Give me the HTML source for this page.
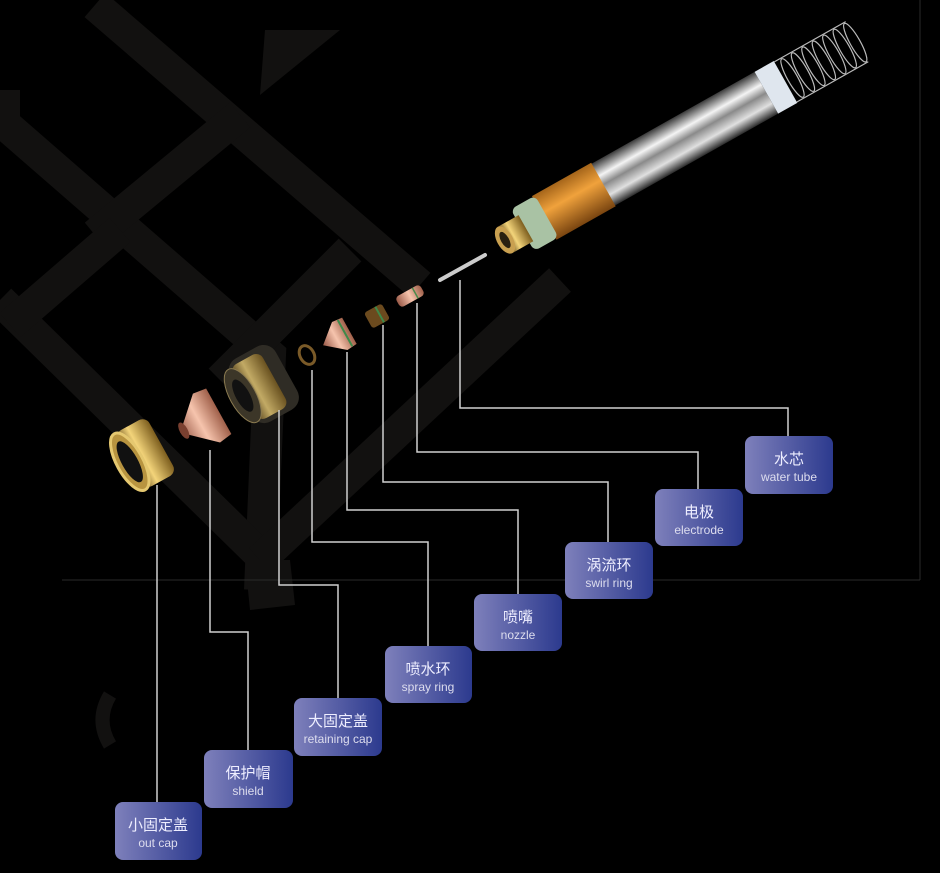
<!DOCTYPE html>
<html><head><meta charset="utf-8"><style>
html,body{margin:0;padding:0;background:#000;}
svg{display:block;}
.cn{font-family:"Liberation Sans","Noto Sans CJK SC",sans-serif;font-size:15px;fill:#eef;}
.en{font-family:"Liberation Sans","Noto Sans CJK SC",sans-serif;font-size:12px;fill:#dde;}
</style></head><body>
<svg width="940" height="873" viewBox="0 0 940 873" xmlns="http://www.w3.org/2000/svg">
<defs>
<linearGradient id="bx" x1="0" x2="1" y1="0" y2="0"><stop offset="0" stop-color="#7e80bb"/><stop offset="1" stop-color="#2c3a8e"/></linearGradient>
<linearGradient id="steel" x1="0" x2="0" y1="0" y2="1"><stop offset="0" stop-color="#3a3a3a"/><stop offset="0.3" stop-color="#f4f4f4"/><stop offset="0.5" stop-color="#8a8a8a"/><stop offset="0.75" stop-color="#e0e0e0"/><stop offset="1" stop-color="#2a2a2a"/></linearGradient>
<linearGradient id="orange" x1="0" x2="0" y1="0" y2="1"><stop offset="0" stop-color="#a5651a"/><stop offset="0.4" stop-color="#f0a23c"/><stop offset="1" stop-color="#7a4510"/></linearGradient>
<linearGradient id="gold" x1="0" x2="1"><stop offset="0" stop-color="#6b5220"/><stop offset="0.4" stop-color="#f3d47a"/><stop offset="1" stop-color="#7d5e1e"/></linearGradient>
<linearGradient id="cu" x1="0" x2="1"><stop offset="0" stop-color="#9a5a48"/><stop offset="0.5" stop-color="#f6c4ad"/><stop offset="1" stop-color="#a0604a"/></linearGradient>
</defs>
<rect width="940" height="873" fill="#000"/>
<!-- background strokes -->
<g stroke="#121110" stroke-width="32" fill="none" stroke-linecap="butt">
<path d="M95 5 L420 285"/>
<path d="M0 120 L270 355 L260 590"/>
<path d="M0 300 L265 560"/>
<path d="M240 115 L95 235"/>
<path d="M120 230 L10 325"/>
<path d="M350 250 L220 380"/>
<path d="M260 560 L560 280"/>
</g>
<path d="M110 695 Q95 720 110 745" stroke="#121110" stroke-width="14" fill="none"/>
<polygon points="265,30 340,30 260,95" fill="#121110"/>
<polygon points="0,90 20,90 20,130 0,140" fill="#121110"/>
<polygon points="245,560 290,560 295,605 250,610" fill="#121110"/>
<line x1="62" y1="580" x2="920" y2="580" stroke="#2a2a2a" stroke-width="1"/>
<line x1="920" y1="0" x2="920" y2="580" stroke="#2a2a2a" stroke-width="1"/>

<!-- torch body -->
<g transform="translate(505,240) rotate(-29.4)">
<rect x="110" y="-24" width="190" height="48" fill="url(#steel)"/>
<rect x="300" y="-24" width="22" height="48" fill="#dfe6ee"/>
<g stroke="#bbb" stroke-width="1.2" fill="none">
<ellipse cx="330" cy="0" rx="5" ry="22"/><ellipse cx="342" cy="0" rx="5" ry="22"/><ellipse cx="354" cy="0" rx="5" ry="22"/><ellipse cx="366" cy="0" rx="5" ry="22"/><ellipse cx="378" cy="0" rx="5" ry="22"/><ellipse cx="390" cy="0" rx="5" ry="22"/><ellipse cx="402" cy="0" rx="5" ry="22"/>
<line x1="322" y1="-23" x2="404" y2="-23"/><line x1="322" y1="23" x2="404" y2="23"/>
</g>
<rect x="45" y="-25" width="68" height="50" fill="url(#orange)"/>
<rect x="20" y="-24" width="28" height="48" rx="6" fill="#a9c2a4"/>
<rect x="0" y="-15" width="24" height="30" fill="url(#gold)"/>
<ellipse cx="0" cy="0" rx="8" ry="15" fill="#c9a050"/>
<ellipse cx="0" cy="0" rx="4" ry="9" fill="#2a2010"/>
</g>
<!-- water tube rod -->
<line x1="440" y1="280" x2="485" y2="255" stroke="#ccc" stroke-width="4" stroke-linecap="round"/>
<!-- electrode -->
<g transform="translate(410,296) rotate(-29)"><rect x="-14" y="-6" width="28" height="12" rx="4" fill="url(#cu)"/><line x1="6" y1="-6" x2="6" y2="6" stroke="#4a8a4a" stroke-width="1.5"/></g>
<!-- swirl ring -->
<g transform="translate(377,316) rotate(-29)"><rect x="-10" y="-9" width="20" height="18" rx="3" fill="#6b4a1e"/><line x1="3" y1="-9" x2="3" y2="9" stroke="#3e8a4a" stroke-width="2"/></g>
<!-- nozzle -->
<g transform="translate(338,337) rotate(-29)"><path d="M-17 0 L2 -16 L13 -15 L13 15 L2 16 Z" fill="url(#cu)"/><line x1="8" y1="-15" x2="8" y2="15" stroke="#3e8a4a" stroke-width="2"/></g>
<!-- o-ring -->
<ellipse cx="307" cy="355" rx="7" ry="10" transform="rotate(-29 307 355)" fill="none" stroke="#7a5a28" stroke-width="3"/>
<!-- retaining cap -->
<g transform="translate(262,385) rotate(-29)"><rect x="-24" y="-36" width="52" height="72" rx="14" fill="#2f2c25"/><rect x="-20" y="-31" width="34" height="62" rx="8" fill="url(#gold)" opacity="0.75"/><ellipse cx="-22" cy="0" rx="13" ry="30" fill="#3c3628" stroke="#8a7a50"/><ellipse cx="-22" cy="0" rx="7" ry="18" fill="#111"/></g>
<!-- shield -->
<g transform="translate(203,420) rotate(-29)"><path d="M-26 0 L4 -28 L18 -26 L18 26 L4 28 Z" fill="url(#cu)"/><ellipse cx="-22" cy="0" rx="4" ry="9" fill="#7a4030"/></g>
<!-- out cap -->
<g transform="translate(142,455) rotate(-29)"><rect x="-14" y="-32" width="36" height="64" rx="8" fill="url(#gold)"/><ellipse cx="-14" cy="0" rx="13" ry="32" fill="#b89440" stroke="#e5c870" stroke-width="3"/><ellipse cx="-14" cy="0" rx="8" ry="23" fill="#111"/></g>

<!-- connectors -->
<g stroke="#cfcfcf" stroke-width="1.5" fill="none">
<polyline points="157,485 157,802"/>
<polyline points="210,450 210,632 248,632 248,750"/>
<polyline points="279,410 279,585 338,585 338,698"/>
<polyline points="312,370 312,542 428,542 428,646"/>
<polyline points="347,352 347,510 518,510 518,594"/>
<polyline points="383,325 383,482 608,482 608,542"/>
<polyline points="417,303 417,452 698,452 698,489"/>
<polyline points="460,280 460,408 788,408 788,436"/>
</g>

<!-- boxes -->
<g>
<rect x="115" y="802" width="87" height="58" rx="8" fill="url(#bx)"/>
<text x="158" y="830" text-anchor="middle" class="cn">小固定盖</text><text x="158" y="847" text-anchor="middle" class="en">out cap</text>
<rect x="204" y="750" width="89" height="58" rx="8" fill="url(#bx)"/>
<text x="248" y="778" text-anchor="middle" class="cn">保护帽</text><text x="248" y="795" text-anchor="middle" class="en">shield</text>
<rect x="294" y="698" width="88" height="58" rx="8" fill="url(#bx)"/>
<text x="338" y="726" text-anchor="middle" class="cn">大固定盖</text><text x="338" y="743" text-anchor="middle" class="en">retaining cap</text>
<rect x="385" y="646" width="87" height="57" rx="8" fill="url(#bx)"/>
<text x="428" y="674" text-anchor="middle" class="cn">喷水环</text><text x="428" y="691" text-anchor="middle" class="en">spray ring</text>
<rect x="474" y="594" width="88" height="57" rx="8" fill="url(#bx)"/>
<text x="518" y="622" text-anchor="middle" class="cn">喷嘴</text><text x="518" y="639" text-anchor="middle" class="en">nozzle</text>
<rect x="565" y="542" width="88" height="57" rx="8" fill="url(#bx)"/>
<text x="609" y="570" text-anchor="middle" class="cn">涡流环</text><text x="609" y="587" text-anchor="middle" class="en">swirl ring</text>
<rect x="655" y="489" width="88" height="57" rx="8" fill="url(#bx)"/>
<text x="699" y="517" text-anchor="middle" class="cn">电极</text><text x="699" y="534" text-anchor="middle" class="en">electrode</text>
<rect x="745" y="436" width="88" height="58" rx="8" fill="url(#bx)"/>
<text x="789" y="464" text-anchor="middle" class="cn">水芯</text><text x="789" y="481" text-anchor="middle" class="en">water tube</text>
</g>
</svg>
</body></html>
